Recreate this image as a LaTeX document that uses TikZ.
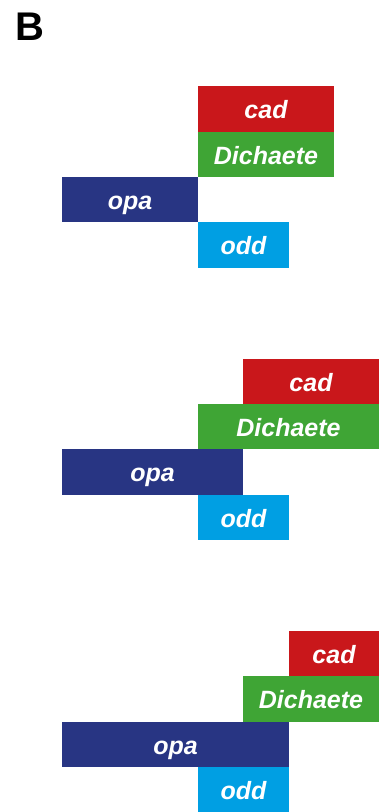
\documentclass[tikz,border=0pt]{standalone}
\usepackage{fontspec}
\setmainfont{Liberation Sans}
\definecolor{cadred}{HTML}{C9171B}
\definecolor{dichgreen}{HTML}{3FA535}
\definecolor{opanavy}{HTML}{283583}
\definecolor{oddcyan}{HTML}{009FE3}
\begin{document}
\begin{tikzpicture}[x=1pt,y=-1pt,
  genebox/.style={anchor=north west, inner sep=0pt, outer sep=0pt, draw=none,
    text=white, font=\bfseries\itshape\fontsize{25}{28}\selectfont,
    text height=19.5pt, text depth=0pt, align=center},
  cadbox/.style={genebox, fill=cadred},
  dichbox/.style={genebox, fill=dichgreen},
  opabox/.style={genebox, fill=opanavy},
  oddbox/.style={genebox, fill=oddcyan},
  panel/.style={anchor=base west, inner sep=0pt, font=\bfseries\fontsize{40}{44}\selectfont}]
\useasboundingbox (0,0) rectangle (387,812);
\node[panel] (lbl) at (15.4,40) {B};
% group 1
\node[cadbox, minimum width=136pt, minimum height=46pt] (cad1) at (198,86) {cad};
\node[dichbox, minimum width=136pt, minimum height=45pt] (dich1) at (198,132) {Dichaete};
\node[opabox, minimum width=136pt, minimum height=45pt] (opa1) at (62,177) {opa};
\node[oddbox, minimum width=91pt, minimum height=46pt] (odd1) at (198,222) {odd};
% group 2
\node[cadbox, minimum width=136pt, minimum height=45pt] (cad2) at (243,359) {cad};
\node[dichbox, minimum width=181pt, minimum height=45pt] (dich2) at (198,404) {Dichaete};
\node[opabox, minimum width=181pt, minimum height=46pt] (opa2) at (62,449) {opa};
\node[oddbox, minimum width=91pt, minimum height=45pt] (odd2) at (198,495) {odd};
% group 3
\node[cadbox, minimum width=90pt, minimum height=45pt] (cad3) at (289,631) {cad};
\node[dichbox, minimum width=136pt, minimum height=46pt] (dich3) at (243,676) {Dichaete};
\node[opabox, minimum width=227pt, minimum height=45pt] (opa3) at (62,722) {opa};
\node[oddbox, minimum width=91pt, minimum height=45pt] (odd3) at (198,767) {odd};
\end{tikzpicture}
\end{document}
